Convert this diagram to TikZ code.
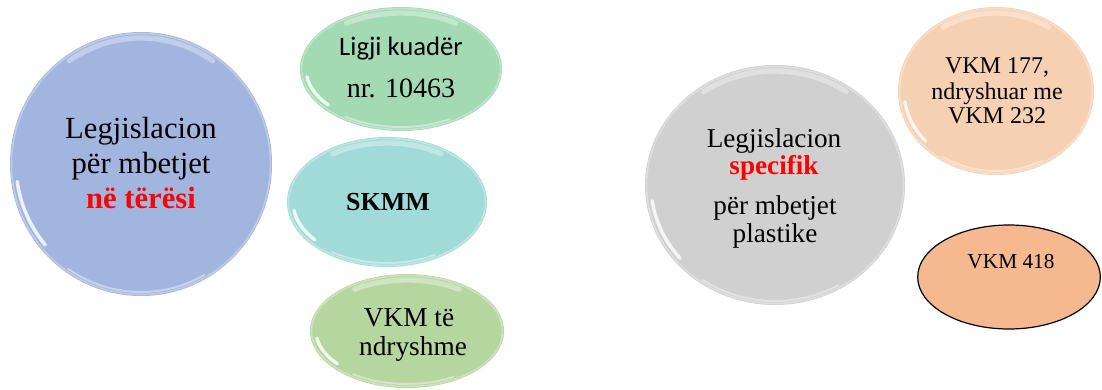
\documentclass[tikz,border=0pt]{standalone}
\usepackage{fontspec}
\setmainfont{Liberation Serif}
\newfontfamily\carlito{Carlito}
\usetikzlibrary{shapes.geometric}
\definecolor{cblue}{HTML}{A2B5DE}
\definecolor{cgreen}{HTML}{A3D9B3}
\definecolor{cteal}{HTML}{A0DBD7}
\definecolor{colive}{HTML}{B6D6A0}
\definecolor{cgrey}{HTML}{D0D0D0}
\definecolor{corange}{HTML}{F6D0B2}
\definecolor{cvkm}{HTML}{F5B88F}
\definecolor{cred}{HTML}{FF0000}
\newcommand\fsz[1]{\fontsize{#1}{#1}\selectfont}
% gloss highlight: center x, center y, rx, ry
\newcommand\glossy[4]{%
  \draw[white, line width=4, opacity=.35, line cap=round]
    ([shift={(#1,#2)}]235:#3-6 and #4-6) arc[start angle=235, end angle=305, x radius=#3-6, y radius=#4-6];
  \draw[white, line width=2.6, opacity=.8, line cap=round]
    ([shift={(#1,#2)}]140:#3-6 and #4-6) arc[start angle=140, end angle=172, x radius=#3-6, y radius=#4-6];
  \draw[white, line width=1.5, opacity=.4, line cap=round]
    ([shift={(#1,#2)}]60:#3-4 and #4-4) arc[start angle=60, end angle=125, x radius=#3-4, y radius=#4-4];
  \draw[white, line width=1.2, opacity=.3]
    (#1,#2) ellipse [x radius=#3-1.5, y radius=#4-1.5];
}
\tikzset{
  bubble/.style={ellipse, inner sep=0pt, draw=none},
  txt/.style={anchor=base, inner sep=0pt, text=black},
}
\begin{document}
\begin{tikzpicture}[x=0.75pt,y=-0.75pt]
\useasboundingbox (0,0) rectangle (1102,389);
\fill[white] (0,0) rectangle (1102,389);

% bubbles
\node[bubble, fill=cblue, minimum width=196.5pt, minimum height=198pt] (b1) at (141,164) {};
\glossy{141}{164}{131}{132}
\node[bubble, fill=cgreen, minimum width=151.5pt, minimum height=93pt] (b2) at (401,69) {};
\glossy{401}{69}{101}{62}
\node[bubble, fill=cteal, minimum width=150pt, minimum height=97.5pt] (b3) at (387,202) {};
\glossy{387}{202}{100}{65}
\node[bubble, fill=colive, minimum width=145.5pt, minimum height=85.5pt] (b4) at (407,331) {};
\glossy{407}{331}{97}{57}
\node[bubble, fill=cgrey, minimum width=195pt, minimum height=180pt] (b5) at (775,185) {};
\glossy{775}{185}{130}{120}
\node[bubble, fill=corange, minimum width=147pt, minimum height=126pt] (b6) at (996,91) {};
\glossy{996}{91}{98}{84}
\node[bubble, fill=cvkm, draw=black, line width=0.9pt, minimum width=137pt, minimum height=78pt] (b7) at (1009,277) {};

% texts
\node[txt, font=\fsz{23}] (t1a) at (141,138) {Legjislacion};
\node[txt, font=\fsz{23}] (t1b) at (141,173) {për mbetjet};
\node[txt, font=\fsz{23}\bfseries, text=cred] (t1c) at (141,208) {në tërësi};

\node[txt, font=\carlito\fsz{20}] (t2a) at (401,55) {Ligji kuadër};
\node[txt, font=\fsz{21}] (t2b) at (401,97) {nr. 10463};

\node[txt, font=\fsz{19.5}\bfseries] (t3) at (388,210) {SKMM};

\node[txt, font=\fsz{20.5}] (t4a) at (409,326) {VKM të};
\node[txt, font=\fsz{20.5}] (t4b) at (413,355) {ndryshme};

\node[txt, font=\fsz{20.4}] (t5a) at (774,147) {Legjislacion};
\node[txt, font=\fsz{20.4}\bfseries, text=cred] (t5b) at (774,174) {specifik};
\node[txt, font=\fsz{20.4}] (t5c) at (775,214) {për mbetjet};
\node[txt, font=\fsz{20.4}] (t5d) at (775,242) {plastike};

\node[txt, font=\fsz{18}] (t6a) at (997,73) {VKM 177,};
\node[txt, font=\fsz{18}] (t6b) at (997,99) {ndryshuar me};
\node[txt, font=\fsz{18}] (t6c) at (997,123) {VKM 232};

\node[txt, font=\fsz{16}] (t7) at (1011,268) {VKM 418};
\end{tikzpicture}
\end{document}
